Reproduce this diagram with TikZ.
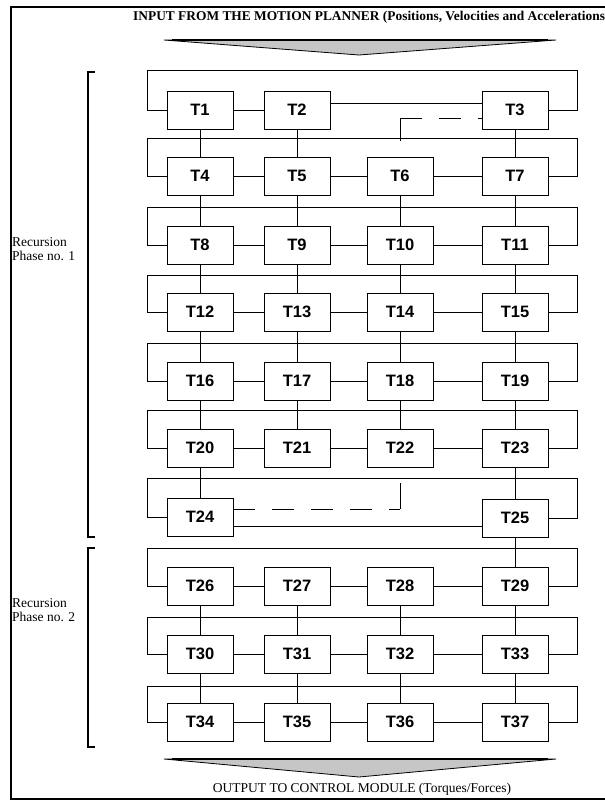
\documentclass[tikz,border=0pt]{standalone}
\usepackage{fontspec}
\setmainfont{Liberation Serif}
\setsansfont{Liberation Sans}
\begin{document}
\begin{tikzpicture}[x=1pt,y=-1pt,
    task/.style={draw, line width=0.8pt, minimum width=66pt, minimum height=38pt,
        inner sep=0pt, font=\sffamily\bfseries\fontsize{16.5}{16.5}\selectfont},
    bus/.style={line width=0.8pt},
    gap/.style={line width=0.8pt, dash pattern=on 22pt off 17pt},
    flow/.style={fill=gray!45, draw=black, line width=0.8pt},
    phase/.style={anchor=west, inner sep=0pt, align=left,
        font=\fontsize{13.5}{13.5}\selectfont},
    bracket/.style={line width=1.8pt}]
    \useasboundingbox (0,0) rectangle (605,804);

    % Frame and texts
    \draw[line width=1.8pt] (605,7) -- (11,7) -- (11,799) -- (605,799);
    \node[anchor=west, inner sep=0pt, font=\bfseries\fontsize{13.4}{13.4}\selectfont]
        (input) at (133,17) {INPUT FROM THE MOTION PLANNER (Positions, Velocities and Accelerations};
    \node[inner sep=0pt, font=\fontsize{13.5}{13.5}\selectfont]
        (output) at (362,789) {OUTPUT TO CONTROL MODULE (Torques/Forces)};
    \filldraw[flow] (164,40) -- (556,40) -- (359,55) -- cycle;
    \draw[line width=2.2pt] (172,39.6) -- (548,39.6);
    \filldraw[flow] (164,759) -- (556,759) -- (359,777) -- cycle;
    \draw[line width=2.2pt] (172,758.6) -- (548,758.6);

    % Recursion phases
    \draw[bracket] (95,72) -- (88,72) -- (88,537) -- (95,537);
    \draw[bracket] (95,548) -- (88,548) -- (88,747) -- (95,747);
    \node[phase] (phase1) at (12,249) {Recursion\\Phase no. 1};
    \node[phase] (phase2) at (12,610) {Recursion\\Phase no. 2};

    % Tasks
    \node[task] (T1) at (200,110) {T1};
    \node[task] (T2) at (297,110) {T2};
    \node[task] (T3) at (515,110) {T3};

    \node[task] (T4) at (200,176) {T4};
    \node[task] (T5) at (297,176) {T5};
    \node[task] (T6) at (400,176) {T6};
    \node[task] (T7) at (515,176) {T7};

    \node[task] (T8) at (200,245) {T8};
    \node[task] (T9) at (297,245) {T9};
    \node[task] (T10) at (400,245) {T10};
    \node[task] (T11) at (515,245) {T11};

    \node[task] (T12) at (200,312) {T12};
    \node[task] (T13) at (297,312) {T13};
    \node[task] (T14) at (400,312) {T14};
    \node[task] (T15) at (515,312) {T15};

    \node[task] (T16) at (200,381) {T16};
    \node[task] (T17) at (297,381) {T17};
    \node[task] (T18) at (400,381) {T18};
    \node[task] (T19) at (515,381) {T19};

    \node[task] (T20) at (200,448) {T20};
    \node[task] (T21) at (297,448) {T21};
    \node[task] (T22) at (400,448) {T22};
    \node[task] (T23) at (515,448) {T23};

    \node[task] (T24) at (200,517) {T24};
    \node[task] (T25) at (515,518) {T25};

    \node[task] (T26) at (200,586) {T26};
    \node[task] (T27) at (297,586) {T27};
    \node[task] (T28) at (400,586) {T28};
    \node[task] (T29) at (515,586) {T29};

    \node[task] (T30) at (200,654) {T30};
    \node[task] (T31) at (297,654) {T31};
    \node[task] (T32) at (400,654) {T32};
    \node[task] (T33) at (515,654) {T33};

    \node[task] (T34) at (200,722) {T34};
    \node[task] (T35) at (297,722) {T35};
    \node[task] (T36) at (400,722) {T36};
    \node[task] (T37) at (515,722) {T37};

    % Bus corners
    \coordinate (L1) at (147,70);   \coordinate (R1) at (577,70);
    \coordinate (L2) at (147,138);  \coordinate (R2) at (577,138);
    \coordinate (L3) at (147,207);  \coordinate (R3) at (577,207);
    \coordinate (L4) at (147,275);  \coordinate (R4) at (577,275);
    \coordinate (L5) at (147,343);  \coordinate (R5) at (577,343);
    \coordinate (L6) at (147,410);  \coordinate (R6) at (577,410);
    \coordinate (L7) at (147,478);  \coordinate (R7) at (577,478);
    \coordinate (L8) at (147,548);  \coordinate (R8) at (577,548);
    \coordinate (L9) at (147,617);  \coordinate (R9) at (577,617);
    \coordinate (L10) at (147,686); \coordinate (R10) at (577,686);

    % Row loops
    \draw[bus] (T1.west) -| (L1) -- (R1) |- (T3.east);
    \draw[bus] (T4.west) -| (L2) -- (R2) |- (T7.east);
    \draw[bus] (T8.west) -| (L3) -- (R3) |- (T11.east);
    \draw[bus] (T12.west) -| (L4) -- (R4) |- (T15.east);
    \draw[bus] (T16.west) -| (L5) -- (R5) |- (T19.east);
    \draw[bus] (T20.west) -| (L6) -- (R6) |- (T23.east);
    \draw[bus] (T24.west) -| (L7) -- (R7) |- (T25.east);
    \draw[bus] (T26.west) -| (L8) -- (R8) |- (T29.east);
    \draw[bus] (T30.west) -| (L9) -- (R9) |- (T33.east);
    \draw[bus] (T34.west) -| (L10) -- (R10) |- (T37.east);

    % Links within rows
    \draw[bus] (T1) -- (T2);
    \draw[bus] ([yshift=7pt]T2.east) -- ([yshift=7pt]T3.west);
    \draw[bus] (T4) -- (T5) -- (T6) -- (T7);
    \draw[bus] (T8) -- (T9) -- (T10) -- (T11);
    \draw[bus] (T12) -- (T13) -- (T14) -- (T15);
    \draw[bus] (T16) -- (T17) -- (T18) -- (T19);
    \draw[bus] (T20) -- (T21) -- (T22) -- (T23);
    \draw[bus] ([yshift=-9pt]T24.east) -- ([yshift=-8pt]T25.west);
    \draw[bus] (T26) -- (T27) -- (T28) -- (T29);
    \draw[bus] (T30) -- (T31) -- (T32) -- (T33);
    \draw[bus] (T34) -- (T35) -- (T36) -- (T37);

    % Links between rows
    \draw[bus] (T1) -- (T4);  \draw[bus] (T2) -- (T5);  \draw[bus] (T3) -- (T7);
    \draw[bus] (T4) -- (T8);  \draw[bus] (T5) -- (T9);  \draw[bus] (T6) -- (T10);  \draw[bus] (T7) -- (T11);
    \draw[bus] (T8) -- (T12); \draw[bus] (T9) -- (T13); \draw[bus] (T10) -- (T14); \draw[bus] (T11) -- (T15);
    \draw[bus] (T12) -- (T16); \draw[bus] (T13) -- (T17); \draw[bus] (T14) -- (T18); \draw[bus] (T15) -- (T19);
    \draw[bus] (T16) -- (T20); \draw[bus] (T17) -- (T21); \draw[bus] (T18) -- (T22); \draw[bus] (T19) -- (T23);
    \draw[bus] (T20) -- (T24); \draw[bus] (T23) -- (T25);
    \draw[bus] (T25) -- (T29);
    \draw[bus] (T26) -- (T30); \draw[bus] (T27) -- (T31); \draw[bus] (T28) -- (T32); \draw[bus] (T29) -- (T33);
    \draw[bus] (T30) -- (T34); \draw[bus] (T31) -- (T35); \draw[bus] (T32) -- (T36); \draw[bus] (T33) -- (T37);

    % Dashed links
    \coordinate (D1) at (400,118);  \coordinate (D1b) at (400,141);
    \draw[bus] (D1b) -- (D1);
    \draw[gap] (D1) -- (T3.west |- D1);
    \coordinate (D2) at (400,509);  \coordinate (D2t) at (400,483);
    \draw[bus] (D2t) -- (D2);
    \draw[gap] (T24.east |- D2) -- (D2);
\end{tikzpicture}
\end{document}
